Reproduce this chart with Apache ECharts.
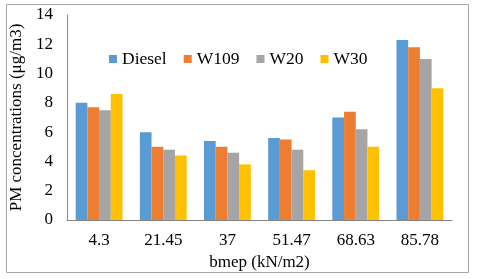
<!DOCTYPE html>
<html><head><meta charset="utf-8">
<script src="https://cdn.jsdelivr.net/npm/echarts@6/dist/echarts.min.js"></script>
<style>html,body{margin:0;padding:0;background:#fff}#c{width:480px;height:279px}</style>
</head><body><div id="c"></div>
<script>
var categories = ['4.3','21.45','37','51.47','68.63','85.78'];
var seriesNames = ['Diesel','W109','W20','W30'];
var diesel = [8.0, 6.0, 5.4, 5.6, 7.0, 12.3];
var w109 = [7.7, 5.0, 5.0, 5.5, 7.4, 11.8];
var w20 = [7.5, 4.8, 4.6, 4.8, 6.2, 11.0];
var w30 = [8.6, 4.4, 3.8, 3.4, 5.0, 9.0];
var colors = ['#5B9BD5','#ED7D31','#A5A5A5','#FFC000'];
var yTicks = [0,2,4,6,8,10,12,14];

var font = '"Liberation Serif", "Times New Roman", serif';
var chart = echarts.init(document.getElementById('c'));
var data = [diesel, w109, w20, w30];
chart.setOption({
  animation: false,
  color: colors,
  textStyle: {fontFamily: font},
  graphic: [{type:'rect', shape:{x:6.5,y:4.5,width:462,height:268}, style:{fill:'none', stroke:'#A6A6A6', lineWidth:1}}],
  legend: {
    data: seriesNames, left: 104, top: 45, icon: 'rect', itemWidth: 8, itemHeight: 8, itemGap: 17,
    textStyle: {fontFamily: font, fontSize: 17.5, color: '#000'}
  },
  grid: {left: 67, right: 28, top: 15, bottom: 59},
  xAxis: {
    type: 'category', data: categories,
    axisLine: {lineStyle: {color: '#868686'}}, axisTick: {show: false},
    axisLabel: {color: '#000', fontSize: 17, fontFamily: font, margin: 12},
    name: 'bmep (kN/m2)', nameLocation: 'middle', nameGap: 30,
    nameTextStyle: {color: '#000', fontSize: 17, fontFamily: font}
  },
  yAxis: {
    type: 'value', min: yTicks[0], max: yTicks[yTicks.length-1], interval: 2,
    axisLine: {show: true, lineStyle: {color: '#868686'}}, axisTick: {show: false},
    splitLine: {show: false},
    axisLabel: {color: '#000', fontSize: 17, fontFamily: font, margin: 14},
    name: 'PM concentrations (μg/m3)', nameLocation: 'middle', nameGap: 42,
    nameTextStyle: {color: '#000', fontSize: 17, fontFamily: font}
  },
  series: seriesNames.map(function(n, i){
    return {name: n, type: 'bar', data: data[i], barGap: '0%', barCategoryGap: '27%'};
  })
});
</script></body></html>
